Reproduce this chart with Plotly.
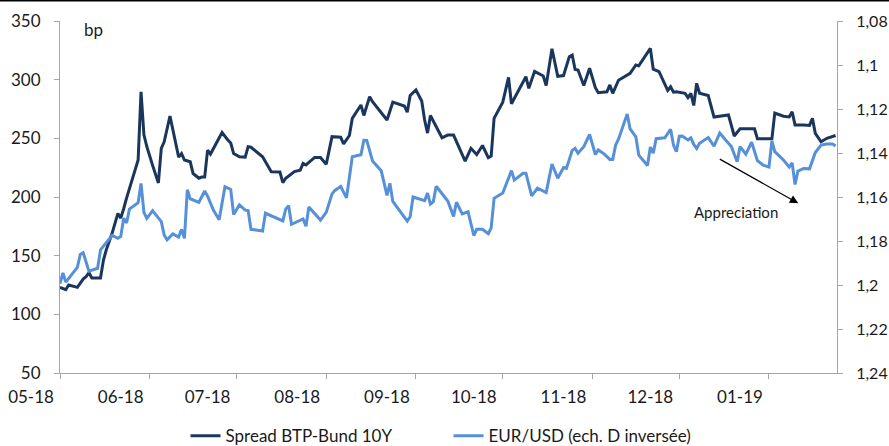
import plotly.graph_objects as go

# ---------------- data ----------------
spread_dates = [
    "2018-05-01", "2018-05-03", "2018-05-04", "2018-05-07", "2018-05-09", "2018-05-10", "2018-05-11", "2018-05-12",
    "2018-05-15", "2018-05-16", "2018-05-17", "2018-05-19", "2018-05-21", "2018-05-22", "2018-05-23", "2018-05-24",
    "2018-05-28", "2018-05-29", "2018-05-30", "2018-05-31", "2018-06-02", "2018-06-04", "2018-06-05", "2018-06-06",
    "2018-06-08", "2018-06-11", "2018-06-12", "2018-06-13", "2018-06-15", "2018-06-16", "2018-06-18", "2018-06-19",
    "2018-06-20", "2018-06-21", "2018-06-22", "2018-06-26", "2018-06-28", "2018-06-29", "2018-06-30", "2018-07-02",
    "2018-07-04", "2018-07-05", "2018-07-06", "2018-07-10", "2018-07-13", "2018-07-16", "2018-07-17", "2018-07-18",
    "2018-07-21", "2018-07-23", "2018-07-24", "2018-07-25", "2018-07-28", "2018-07-30", "2018-08-01", "2018-08-02",
    "2018-08-03", "2018-08-06", "2018-08-07", "2018-08-09", "2018-08-10", "2018-08-13", "2018-08-14", "2018-08-16",
    "2018-08-17", "2018-08-22", "2018-08-24", "2018-08-28", "2018-08-29", "2018-08-30", "2018-09-01", "2018-09-03",
    "2018-09-04", "2018-09-05", "2018-09-06", "2018-09-10", "2018-09-12", "2018-09-14", "2018-09-18", "2018-09-20",
    "2018-09-22", "2018-09-24", "2018-09-26", "2018-09-27", "2018-09-28", "2018-10-01", "2018-10-03", "2018-10-04",
    "2018-10-09", "2018-10-10", "2018-10-12", "2018-10-15", "2018-10-16", "2018-10-18", "2018-10-20", "2018-10-22",
    "2018-10-24", "2018-10-25", "2018-10-26", "2018-10-27", "2018-10-29", "2018-10-31", "2018-11-02", "2018-11-03",
    "2018-11-06", "2018-11-07", "2018-11-08", "2018-11-10", "2018-11-13", "2018-11-14", "2018-11-16", "2018-11-17",
    "2018-11-21", "2018-11-22", "2018-11-24", "2018-11-27", "2018-11-28", "2018-11-29", "2018-11-30", "2018-12-03",
    "2018-12-04", "2018-12-05", "2018-12-06", "2018-12-07", "2018-12-08", "2018-12-11", "2018-12-13", "2018-12-18",
    "2018-12-20", "2018-12-22", "2018-12-27", "2018-12-28", "2019-01-02", "2019-01-03", "2019-01-06", "2019-01-08",
    "2019-01-09", "2019-01-10", "2019-01-13", "2019-01-15", "2019-01-16", "2019-01-17", "2019-01-19", "2019-01-21",
    "2019-01-24",
]
spread_bp = [
    123, 121, 125, 123, 130, 132, 135.5, 131,
    131, 146, 155, 169, 186, 182, 190, 199,
    231.5, 289.7, 253, 243, 227, 212, 241.5, 247,
    269, 234, 237, 231.5, 230, 220, 216, 217,
    217, 240, 236.6, 255, 248.6, 246, 237, 234.3,
    234, 242.9, 242.4, 234.3, 221.6, 221.3, 212.2, 216,
    221.6, 222.8, 228.7, 227.3, 233.7, 233.7, 227.9, 240,
    251.4, 250.9, 245.2, 252.4, 267, 278.4, 269.5, 285.5,
    281.2, 265.6, 280.8, 277.6, 272.3, 286.5, 291.2, 281.8,
    265.6, 254.5, 269.5, 250.5, 252.8, 252.8, 230.5, 241.5,
    236.2, 243.9, 233.5, 234.9, 267, 280.8, 302, 279.5,
    302.5, 292.6, 307.1, 303.1, 295, 326.3, 302.9, 303.5,
    319.6, 321, 308.7, 308.2, 295, 309.7, 293.2, 288.9,
    289.7, 295.5, 288.4, 299.5, 304, 305.4, 312.5, 311.8,
    326.7, 308.9, 306.8, 290.8, 294, 289.3, 289.7, 288.4,
    284.8, 288.4, 278, 296.9, 288.4, 286.5, 268.2, 269.9,
    252, 258.1, 258.1, 249.6, 249.6, 271.6, 268.8, 268.2,
    272.7, 261.4, 261.4, 261, 267, 254.3, 247.1, 250,
    252.4,
]

eur_dates = [
    "2018-05-01", "2018-05-02", "2018-05-03", "2018-05-07", "2018-05-08", "2018-05-09", "2018-05-11", "2018-05-14",
    "2018-05-15", "2018-05-18", "2018-05-19", "2018-05-21", "2018-05-22", "2018-05-23", "2018-05-24", "2018-05-25",
    "2018-05-28", "2018-05-29", "2018-05-30", "2018-05-31", "2018-06-02", "2018-06-05", "2018-06-06", "2018-06-07",
    "2018-06-09", "2018-06-11", "2018-06-12", "2018-06-13", "2018-06-14", "2018-06-15", "2018-06-18", "2018-06-20",
    "2018-06-21", "2018-06-23", "2018-06-25", "2018-06-27", "2018-06-29", "2018-06-30", "2018-07-02", "2018-07-04",
    "2018-07-05", "2018-07-06", "2018-07-10", "2018-07-11", "2018-07-13", "2018-07-17", "2018-07-18", "2018-07-19",
    "2018-07-20", "2018-07-24", "2018-07-25", "2018-07-26", "2018-07-30", "2018-08-01", "2018-08-03", "2018-08-04",
    "2018-08-06", "2018-08-08", "2018-08-10", "2018-08-13", "2018-08-14", "2018-08-15", "2018-08-17", "2018-08-20",
    "2018-08-22", "2018-08-23", "2018-08-24", "2018-08-29", "2018-08-30", "2018-08-31", "2018-09-04", "2018-09-05",
    "2018-09-06", "2018-09-07", "2018-09-08", "2018-09-12", "2018-09-14", "2018-09-15", "2018-09-17", "2018-09-19",
    "2018-09-21", "2018-09-22", "2018-09-24", "2018-09-26", "2018-09-27", "2018-09-28", "2018-10-01", "2018-10-04",
    "2018-10-05", "2018-10-08", "2018-10-09", "2018-10-11", "2018-10-13", "2018-10-16", "2018-10-18", "2018-10-20",
    "2018-10-22", "2018-10-23", "2018-10-25", "2018-10-26", "2018-10-27", "2018-10-29", "2018-10-31", "2018-11-02",
    "2018-11-03", "2018-11-05", "2018-11-07", "2018-11-08", "2018-11-09", "2018-11-10", "2018-11-13", "2018-11-14",
    "2018-11-16", "2018-11-17", "2018-11-20", "2018-11-21", "2018-11-22", "2018-11-23", "2018-11-26", "2018-11-28",
    "2018-11-29", "2018-11-30", "2018-12-01", "2018-12-02", "2018-12-04", "2018-12-05", "2018-12-06", "2018-12-07",
    "2018-12-08", "2018-12-11", "2018-12-13", "2018-12-15", "2018-12-17", "2018-12-19", "2018-12-21", "2018-12-22",
    "2018-12-24", "2018-12-26", "2018-12-28", "2018-12-30", "2019-01-01", "2019-01-02", "2019-01-03", "2019-01-06",
    "2019-01-08", "2019-01-09", "2019-01-10", "2019-01-11", "2019-01-13", "2019-01-15", "2019-01-17", "2019-01-19",
    "2019-01-21", "2019-01-23", "2019-01-24",
]
eurusd = [
    1.1994, 1.1945, 1.1987, 1.1920, 1.1861, 1.1853, 1.1937, 1.1924,
    1.1840, 1.1788, 1.1775, 1.1788, 1.1779, 1.1697, 1.1718, 1.1655,
    1.1626, 1.1538, 1.1670, 1.1697, 1.1662, 1.1712, 1.1773, 1.1795,
    1.1768, 1.1782, 1.1747, 1.1788, 1.1567, 1.1608, 1.1624, 1.1573,
    1.1596, 1.1659, 1.1703, 1.1553, 1.1566, 1.1680, 1.1636, 1.1660,
    1.1662, 1.1747, 1.1755, 1.1674, 1.1686, 1.1709, 1.1655, 1.1639,
    1.1724, 1.1700, 1.1733, 1.1645, 1.1705, 1.1670, 1.1586, 1.1570,
    1.1552, 1.1604, 1.1417, 1.1408, 1.1342, 1.1343, 1.1436, 1.1481,
    1.1593, 1.1538, 1.1620, 1.1710, 1.1690, 1.1600, 1.1617, 1.1582,
    1.1632, 1.1621, 1.1551, 1.1618, 1.1688, 1.1624, 1.1677, 1.1667,
    1.1775, 1.1747, 1.1747, 1.1767, 1.1740, 1.1606, 1.1582, 1.1480,
    1.1523, 1.1492, 1.1492, 1.1595, 1.1560, 1.1580, 1.1450, 1.1515,
    1.1466, 1.1470, 1.1388, 1.1379, 1.1401, 1.1371, 1.1316, 1.1407,
    1.1386, 1.1404, 1.1429, 1.1429, 1.1364, 1.1337, 1.1223, 1.1290,
    1.1327, 1.1410, 1.1457, 1.1373, 1.1401, 1.1335, 1.1331, 1.1292,
    1.1364, 1.1394, 1.1324, 1.1323, 1.1341, 1.1331, 1.1361, 1.1379,
    1.1356, 1.1330, 1.1369, 1.1309, 1.1341, 1.1371, 1.1440, 1.1371,
    1.1405, 1.1351, 1.1435, 1.1455, 1.1464, 1.1345, 1.1394, 1.1432,
    1.1464, 1.1445, 1.1543, 1.1482, 1.1470, 1.1472, 1.1398, 1.1364,
    1.1359, 1.1359, 1.1368,
]

x_tick_dates = ["2018-05-01", "2018-06-01", "2018-07-01", "2018-08-01", "2018-09-01",
                "2018-10-01", "2018-11-01", "2018-12-01", "2019-01-01"]
x_tick_labels = ["05-18", "06-18", "07-18", "08-18", "09-18", "10-18", "11-18", "12-18", "01-19"]
left_ticks = [50, 100, 150, 200, 250, 300, 350]
right_ticks = [1.08, 1.10, 1.12, 1.14, 1.16, 1.18, 1.20, 1.22, 1.24]
right_labels = ["1,08", "1,1", "1,12", "1,14", "1,16", "1,18", "1,2", "1,22", "1,24"]

name_spread = "Spread BTP-Bund 10Y"
name_eur = "EUR/USD (ech. D inversée)"

# ---------------- figure ----------------
FONT = "Lato"
TXT = "#1a1a1a"
AX = "#A6A6A6"
DARK = "#1B365D"
LIGHT = "#5590D9"

fig = go.Figure()
fig.add_trace(go.Scatter(x=spread_dates, y=spread_bp, name=name_spread, mode="lines",
                         line=dict(color=DARK, width=3)))
fig.add_trace(go.Scatter(x=eur_dates, y=eurusd, name=name_eur, mode="lines", yaxis="y2",
                         line=dict(color=LIGHT, width=3)))

fig.update_layout(
    width=889, height=446,
    margin=dict(l=60, r=52, t=21, b=73, autoexpand=False),
    paper_bgcolor="white", plot_bgcolor="white",
    font=dict(family=FONT, size=17, color=TXT),
    showlegend=True,
    legend=dict(orientation="h", x=0.5, xanchor="center",
                yref="container", y=0.022, yanchor="middle",
                font=dict(size=17), itemwidth=30, tracegroupgap=0,
                entrywidth=218, entrywidthmode="pixels", bgcolor="rgba(0,0,0,0)"),
    xaxis=dict(type="date", range=["2018-05-01", "2019-01-24 12:00"],
               tickvals=x_tick_dates, ticktext=x_tick_labels,
               ticks="outside", ticklen=5, tickcolor=AX, tickwidth=1,
               showline=True, linecolor=AX, linewidth=1, showgrid=False, zeroline=False,
               ticklabelshift=-29, ticklabeloverflow="allow", ticklabelstandoff=4),
    yaxis=dict(range=[50, 350], tickvals=left_ticks, ticks="outside", ticklen=5,
               tickcolor=AX, showline=True, linecolor=AX, linewidth=1,
               showgrid=False, zeroline=False, ticklabelstandoff=10),
    yaxis2=dict(overlaying="y", side="right", range=[1.24, 1.08],
                tickvals=right_ticks, ticktext=right_labels, ticks="outside", ticklen=5,
                tickcolor=AX, showline=True, linecolor=AX, linewidth=1,
                showgrid=False, zeroline=False, ticklabelstandoff=10,
                tickfont=dict(size=16)),
)

# top border line
fig.add_shape(type="line", xref="paper", yref="paper", x0=-0.08, x1=1.07, y0=1.058, y1=1.058,
              line=dict(color="black", width=2))

fig.add_annotation(text="bp", xref="paper", yref="paper", x=0.028, y=0.975,
                   xanchor="left", yanchor="middle", showarrow=False, font=dict(size=17))

# appreciation arrow + label
fig.add_annotation(text="", xref="paper", yref="paper", x=0.9502, y=0.4821,
                   ax=-80, ay=-45, showarrow=True, arrowhead=2, arrowsize=1.3,
                   arrowwidth=1.3, arrowcolor="black")
fig.add_annotation(text="Appreciation", xref="paper", yref="paper", x=0.87, y=0.458,
                   xanchor="center", yanchor="middle", showarrow=False, font=dict(size=15))

fig.write_html("out.html")
